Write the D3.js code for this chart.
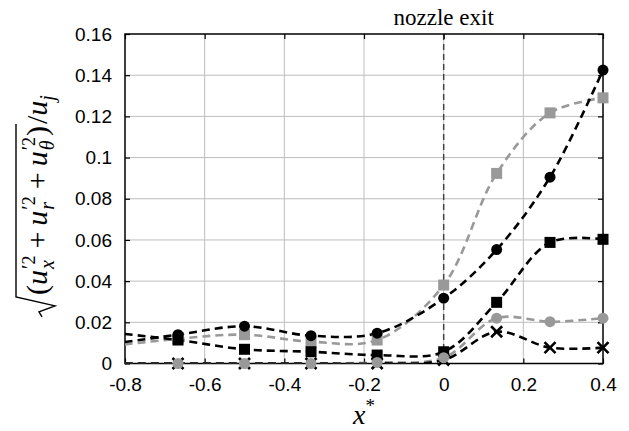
<!DOCTYPE html>
<html>
<head>
<meta charset="utf-8">
<script src="https://cdn.jsdelivr.net/npm/d3@7"></script>
<style>
  body { margin: 0; background: #fff; }
  svg { display: block; }
</style>
</head>
<body>
<div id="plot"></div>
<script>
// sample positions (first one sits just left of the frame, so only its line shows)
const xPos = [-0.833, -0.667, -0.5, -0.333, -0.167, 0, 0.133, 0.267, 0.4];

// series
const blackCircle = [0.0095, 0.0140, 0.0181, 0.0135, 0.0147, 0.0317, 0.0553, 0.0905, 0.1425];
const graySquare  = [0.0085, 0.0120, 0.0140, 0.0106, 0.0114, 0.0381, 0.0923, 0.1217, 0.1290];
const blackSquare = [0.0150, 0.0114, 0.0069, 0.0057, 0.0041, 0.0057, 0.0297, 0.0588, 0.0603];
const grayCircle  = [0, 0, 0, 0, 0.0005, 0.0028, 0.0220, 0.0203, 0.0220];
const blackCross  = [0, 0, 0, 0, 0, 0.0017, 0.0154, 0.0077, 0.0077];

// ticks
const xTicks = [-0.8, -0.6, -0.4, -0.2, 0, 0.2, 0.4];
const xTickLabels = ['-0.8', '-0.6', '-0.4', '-0.2', '0', '0.2', '0.4'];
const yTicks = [0, 0.02, 0.04, 0.06, 0.08, 0.1, 0.12, 0.14, 0.16];
const yTickLabels = ['0', '0.02', '0.04', '0.06', '0.08', '0.1', '0.12', '0.14', '0.16'];

const W = 629, H = 431;
const pLeft = 125, pRight = 603, pTop = 34, pBottom = 363.5;
const gray = '#999999';
const sans = 'Liberation Sans, Arial, sans-serif';
const serif = 'Liberation Serif, DejaVu Serif, serif';

const xScale = d3.scaleLinear().domain([-0.8, 0.4]).range([pLeft, pRight]);
const yScale = d3.scaleLinear().domain([0, 0.16]).range([pBottom, pTop]);

const svg = d3.select('#plot').append('svg')
  .attr('width', W)
  .attr('height', H);

// grid
svg.append('g').selectAll('line')
  .data(xTicks.slice(1, -1))
  .enter().append('line')
  .attr('x1', d => xScale(d)).attr('x2', d => xScale(d))
  .attr('y1', pTop).attr('y2', pBottom)
  .attr('stroke', '#bdbdbd').attr('stroke-width', 1);

svg.append('g').selectAll('line')
  .data(yTicks.slice(1, -1))
  .enter().append('line')
  .attr('x1', pLeft).attr('x2', pRight)
  .attr('y1', d => yScale(d)).attr('y2', d => yScale(d))
  .attr('stroke', '#bdbdbd').attr('stroke-width', 1);

// nozzle exit marker
svg.append('line')
  .attr('x1', xScale(0)).attr('x2', xScale(0))
  .attr('y1', pTop).attr('y2', pBottom)
  .attr('stroke', '#444').attr('stroke-width', 1.5)
  .attr('stroke-dasharray', '6,4');

svg.append('text')
  .attr('x', xScale(0)).attr('y', 25)
  .attr('text-anchor', 'middle')
  .attr('font-family', serif).attr('font-size', 23)
  .text('nozzle exit');

// axes (ticks point inward)
function styleAxis(g) {
  g.select('.domain').remove();
  g.selectAll('.tick line').attr('stroke', '#000').attr('stroke-width', 1.2);
  g.selectAll('text').attr('font-family', sans).attr('font-size', 19).attr('fill', '#000');
  g.attr('font-family', sans).attr('font-size', 19);
}

svg.append('g')
  .attr('transform', `translate(${pLeft},0)`)
  .call(d3.axisLeft(yScale).tickValues(yTicks).tickFormat((d, i) => yTickLabels[i])
    .tickSizeInner(-5).tickSizeOuter(0).tickPadding(13))
  .call(styleAxis);

svg.append('g')
  .attr('transform', `translate(${pRight},0)`)
  .call(d3.axisRight(yScale).tickValues(yTicks).tickFormat('')
    .tickSizeInner(-5).tickSizeOuter(0))
  .call(styleAxis);

svg.append('g')
  .attr('transform', `translate(0,${pBottom})`)
  .call(d3.axisBottom(xScale).tickValues(xTicks).tickFormat((d, i) => xTickLabels[i])
    .tickSizeInner(-5).tickSizeOuter(0).tickPadding(14))
  .call(styleAxis);

svg.append('g')
  .attr('transform', `translate(0,${pTop})`)
  .call(d3.axisTop(xScale).tickValues(xTicks).tickFormat('')
    .tickSizeInner(-5).tickSizeOuter(0))
  .call(styleAxis);

svg.append('rect')
  .attr('x', pLeft).attr('y', pTop)
  .attr('width', pRight - pLeft).attr('height', pBottom - pTop)
  .attr('fill', 'none').attr('stroke', '#000').attr('stroke-width', 1.5);

// lines
svg.append('clipPath').attr('id', 'clip')
  .append('rect').attr('x', pLeft).attr('y', pTop - 20)
  .attr('width', pRight - pLeft).attr('height', pBottom - pTop + 20);

const line = d3.line()
  .x((d, i) => xScale(xPos[i]))
  .y(d => yScale(d))
  .curve(d3.curveCatmullRom.alpha(0.5));

const series = [
  { vals: graySquare, color: gray, shape: 'square' },
  { vals: grayCircle, color: gray, shape: 'circle' },
  { vals: blackCross, color: '#000', shape: 'cross' },
  { vals: blackSquare, color: '#000', shape: 'square' },
  { vals: blackCircle, color: '#000', shape: 'circle' },
];

const lines = svg.append('g').attr('clip-path', 'url(#clip)');
series.forEach(s => {
  lines.append('path')
    .attr('d', line(s.vals))
    .attr('fill', 'none')
    .attr('stroke', s.color)
    .attr('stroke-width', 2.6)
    .attr('stroke-dasharray', '8,5');
});

// markers (only the samples inside the frame)
const drawOrder = [series[0], series[3], series[2], series[1], series[4]];
drawOrder.forEach(s => {
  const pts = s.vals.map((v, i) => [xPos[i], v]).filter(p => p[0] >= -0.8);
  const g = svg.append('g');
  if (s.shape === 'circle') {
    g.selectAll('circle').data(pts).enter().append('circle')
      .attr('cx', d => xScale(d[0])).attr('cy', d => yScale(d[1]))
      .attr('r', 5.5).attr('fill', s.color);
  } else if (s.shape === 'square') {
    g.selectAll('rect').data(pts).enter().append('rect')
      .attr('x', d => xScale(d[0]) - 5.5).attr('y', d => yScale(d[1]) - 5.5)
      .attr('width', 11).attr('height', 11).attr('fill', s.color);
  } else {
    g.selectAll('path').data(pts).enter().append('path')
      .attr('transform', d => `translate(${xScale(d[0])},${yScale(d[1])})`)
      .attr('d', 'M-5.5,-5.5L5.5,5.5M-5.5,5.5L5.5,-5.5')
      .attr('stroke', s.color).attr('stroke-width', 2.6);
  }
});

// x axis title
const xt = svg.append('text')
  .attr('x', (pLeft + pRight) / 2).attr('y', 424)
  .attr('text-anchor', 'middle')
  .attr('font-family', serif).attr('font-size', 28);
xt.append('tspan').attr('font-style', 'italic').text('x');
xt.append('tspan').attr('dy', -12).attr('font-size', 19).text('*');

// y axis title: sqrt(u'x^2 + u'r^2 + u'θ^2)/uj, built piece by piece
const yl = svg.append('g').attr('transform', `translate(47,207) rotate(-90)`);
const inner = yl.append('g');
const fs = 30, ss = 20;
let cx = 0;
function piece(str, size, italic, dy, at) {
  const t = inner.append('text')
    .attr('x', at === undefined ? cx : at).attr('y', dy)
    .attr('font-family', serif).attr('font-size', size)
    .attr('font-style', italic ? 'italic' : 'normal')
    .text(str);
  return t.node().getComputedTextLength();
}
function uTerm(sub) {
  cx += piece('u', fs, true, 0) + 1;
  const wp = piece('\u2032', ss, false, -11);
  const w1 = piece('2', ss * 0.9, false, -12, cx + wp);
  const w2 = piece(sub, ss, true, 7);
  cx += Math.max(wp + w1, w2) + 1;
}
const radStart = cx;
cx += 24;
cx += piece('(', fs, false, 0);
uTerm('x');
cx += 6; cx += piece('+', fs, false, 0); cx += 6;
uTerm('r');
cx += 6; cx += piece('+', fs, false, 0); cx += 6;
uTerm('\u03b8');
cx += piece(')', fs, false, 0);
const radEnd = cx + 2;
cx += 2;
cx += piece('/', fs, false, 0);
cx += piece('u', fs, true, 0);
cx += piece('j', ss, true, 7);

inner.append('path')
  .attr('d', `M${radStart + 2},-5 L${radStart + 7},-8 L${radStart + 13},8 L${radStart + 22},-31 L${radEnd},-31`)
  .attr('fill', 'none').attr('stroke', '#000').attr('stroke-width', 1.4);

inner.attr('transform', `translate(${-cx / 2},0)`);
</script>
</body>
</html>
